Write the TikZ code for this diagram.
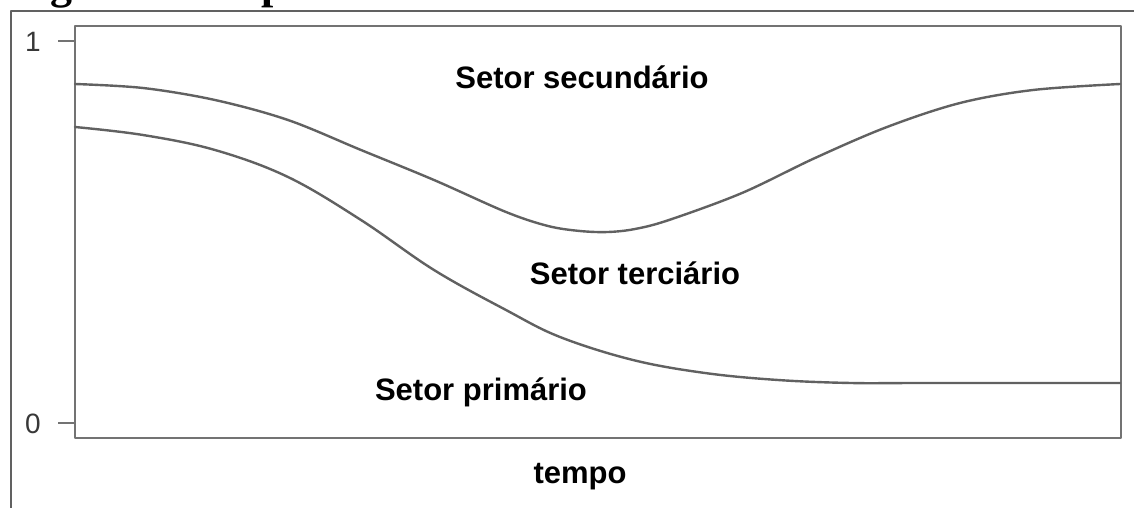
\documentclass[tikz,border=0pt]{standalone}
\usepackage{fontspec}
\setmainfont{Liberation Serif}
\setsansfont{Liberation Sans}
\begin{document}
\begin{tikzpicture}[x=1pt,y=-1pt,
  frame/.style={draw=black!62,line width=2.4pt,line join=round},
  axisbox/.style={draw=black!55,line width=2pt,line join=round},
  curve/.style={draw=black!62,line width=2.4pt,line join=round,line cap=round},
  sector/.style={font=\sffamily\bfseries\fontsize{31}{36}\selectfont,text=black,inner sep=0pt},
  ticklabel/.style={font=\sffamily\fontsize{28}{30}\selectfont,text=black!78,inner sep=0pt}]
\useasboundingbox (0,0) rectangle (1134,508);
\fill[white] (0,0) rectangle (1134,508);
% caption above the frame, almost entirely cut off by the top edge
\begin{scope}
\clip (0,0) rectangle (1134,9);
\node[anchor=base west,inner sep=0pt,font=\rmfamily\bfseries\fontsize{44}{48}\selectfont] (caption) at (11,-1) {Figura 4 – Hipótese dos Três Setores};
\end{scope}
% outer frame
\coordinate (fbl) at (11,508);
\coordinate (ftl) at (11,11);
\coordinate (ftr) at (1134,11);
\draw[frame] (fbl) -- (ftl) -- (ftr);
% plot box
\coordinate (pbl) at (75,438);
\coordinate (ptr) at (1121,26);
\draw[axisbox] (pbl) rectangle (ptr);
% ticks
\coordinate (t1a) at (58,41); \coordinate (t1b) at (75,41);
\coordinate (t0a) at (58,423); \coordinate (t0b) at (75,423);
\draw[axisbox] (t1a) -- (t1b);
\draw[axisbox] (t0a) -- (t0b);
\node[ticklabel] (one) at (33,42) {1};
\node[ticklabel] (zero) at (33,424) {0};
% curves
\draw[curve] plot[smooth,tension=0.55] coordinates {(75,84) (143,88) (215,100) (288,120) (361,150) (434,180) (506,212) (548,226) (580,231) (608,232) (635,229) (669,220) (742,193) (815,158) (887,127) (960,103) (1033,90) (1120,84)};
\draw[curve] plot[smooth,tension=0.6] coordinates {(75,127) (143,135) (215,150) (288,177) (361,220) (434,270) (506,310) (560,337) (633,360) (705,373) (778,380) (851,383) (924,383) (1120,383)};
% labels
\node[sector] (sec) at (582,77) {Setor secundário};
\node[sector] (ter) at (635,273) {Setor terciário};
\node[sector] (pri) at (481,392) {Setor primário};
\node[sector] (tempo) at (580,477) {tempo};
\end{tikzpicture}
\end{document}
